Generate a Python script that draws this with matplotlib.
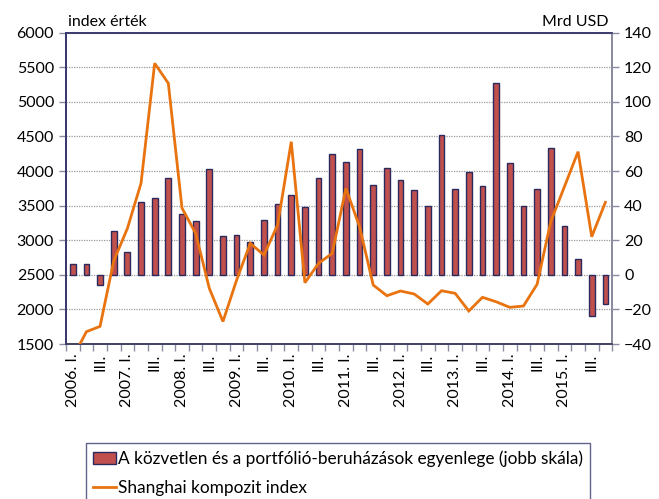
import matplotlib
matplotlib.use("Agg")
import matplotlib.pyplot as plt
from matplotlib.patches import Rectangle
from matplotlib.lines import Line2D
import numpy as np

plt.rcParams['font.family'] = ['Lato', 'DejaVu Sans']

years = list(range(2006, 2016))
quarters = ["I.", "II.", "III.", "IV."]

# Balance of direct and portfolio investment, bn USD (right scale)
balance = [6.2, 6.2, -6.0, 25.6, 13.1, 42.2, 44.5, 56.1,
           35.3, 31.0, 61.1, 22.5, 23.1, 18.9, 31.8, 41.0,
           46.2, 39.1, 55.7, 69.7, 65.1, 73.0, 51.8, 61.7,
           55.1, 48.9, 39.7, 80.7, 49.5, 59.3, 51.4, 111.0,
           64.7, 39.7, 49.9, 73.2, 28.1, 9.1, -23.7, -17.1]

# Shanghai composite index (left scale)
shanghai = [1299, 1678, 1755, 2700, 3170, 3823, 5557, 5268,
            3465, 3100, 2305, 1825, 2425, 2955, 2786, 3220,
            4424, 2386, 2666, 2811, 3750, 3196, 2353, 2198,
            2266, 2223, 2078, 2270, 2233, 1977, 2175, 2111,
            2030, 2049, 2363, 3268, 3774, 4280, 3051, 3548]

labels = []
for y in years:
    for qi, q in enumerate(quarters):
        if qi == 0:
            labels.append(f"{y}. {q}")
        elif qi == 2:
            labels.append(q)
        else:
            labels.append("")

BAR_C = "#C0504D"
EDGE_C = "#2B2A5E"
LINE_C = "#E8730F"
NAVY = "#3A3A6E"

fig = plt.figure(figsize=(6.59, 4.99), dpi=100)
axb = fig.add_axes([0.100, 0.3106, 0.829, 0.6239])  # bars axis (right scale)
axl = axb.twinx()                                    # line axis (left scale)

x = np.arange(len(balance))

# bars on axb with labels on right
axb.bar(x, balance, width=0.42, color=BAR_C, edgecolor=EDGE_C, linewidth=1.0, zorder=3)
axb.set_ylim(-40, 140)
axb.set_yticks(np.arange(-40, 141, 20))
axb.yaxis.tick_right()
axb.yaxis.set_label_position("right")
axb.grid(axis='y', linestyle=(0, (1, 1)), color="#9A9A9A", linewidth=0.9, zorder=0)
axb.set_axisbelow(True)

# line on axl with labels on left
axl.plot(x, shanghai, color=LINE_C, linewidth=2.0, zorder=5, solid_joinstyle='miter')
axl.set_ylim(1500, 6000)
axl.set_yticks(np.arange(1500, 6001, 500))
axl.yaxis.tick_left()
axl.yaxis.set_label_position("left")

for a in (axb, axl):
    a.set_xlim(-0.5, len(balance) - 0.5)
    a.tick_params(axis='y', labelsize=11.5, length=5, color="#8C8CA0", width=1)

# x ticks
axb.set_xticks(np.arange(-0.5, len(balance), 1.0))
axb.set_xticklabels([])
axb.tick_params(axis='x', which='major', length=5, color="#8C8CA0", width=1, direction='out')
axb.set_xticks(x, minor=True)
axb.set_xticklabels(labels, minor=True, rotation=90, fontsize=11.5, va='top', ha='center')
axb.tick_params(axis='x', which='minor', length=0, pad=7)
axl.tick_params(axis='x', which='both', bottom=False, labelbottom=False)

# spines
for a in (axb, axl):
    a.spines['top'].set_color(NAVY)
    a.spines['top'].set_linewidth(1.2)
    a.spines['left'].set_color(NAVY)
    a.spines['left'].set_linewidth(1.4)
    a.spines['right'].set_color("#8C8CA0")
    a.spines['right'].set_linewidth(1.4)
    a.spines['bottom'].set_color("#404060")
    a.spines['bottom'].set_linewidth(1.2)

fig.text(0.103, 0.948, "index érték", fontsize=11.5, ha='left', va='baseline')
fig.text(0.923, 0.948, "Mrd USD", fontsize=11.5, ha='right', va='baseline')

handles = [Rectangle((0, 0), 1, 1, facecolor=BAR_C, edgecolor=EDGE_C, linewidth=1.0),
           Line2D([0], [0], color=LINE_C, linewidth=2.0)]
leg_labels = ["A közvetlen és a portfólió-beruházások egyenlege (jobb skála)",
              "Shanghai kompozit index"]
leg = fig.legend(handles, leg_labels, loc='upper left', bbox_to_anchor=(0.13, 0.113),
                 fontsize=12.4, frameon=True, fancybox=False, edgecolor=NAVY,
                 handlelength=1.3, handletextpad=0.1, labelspacing=0.75,
                 borderpad=0.45, borderaxespad=0)
leg.get_frame().set_linewidth(1.0)

fig.savefig("out.png", dpi=100, facecolor="white")
